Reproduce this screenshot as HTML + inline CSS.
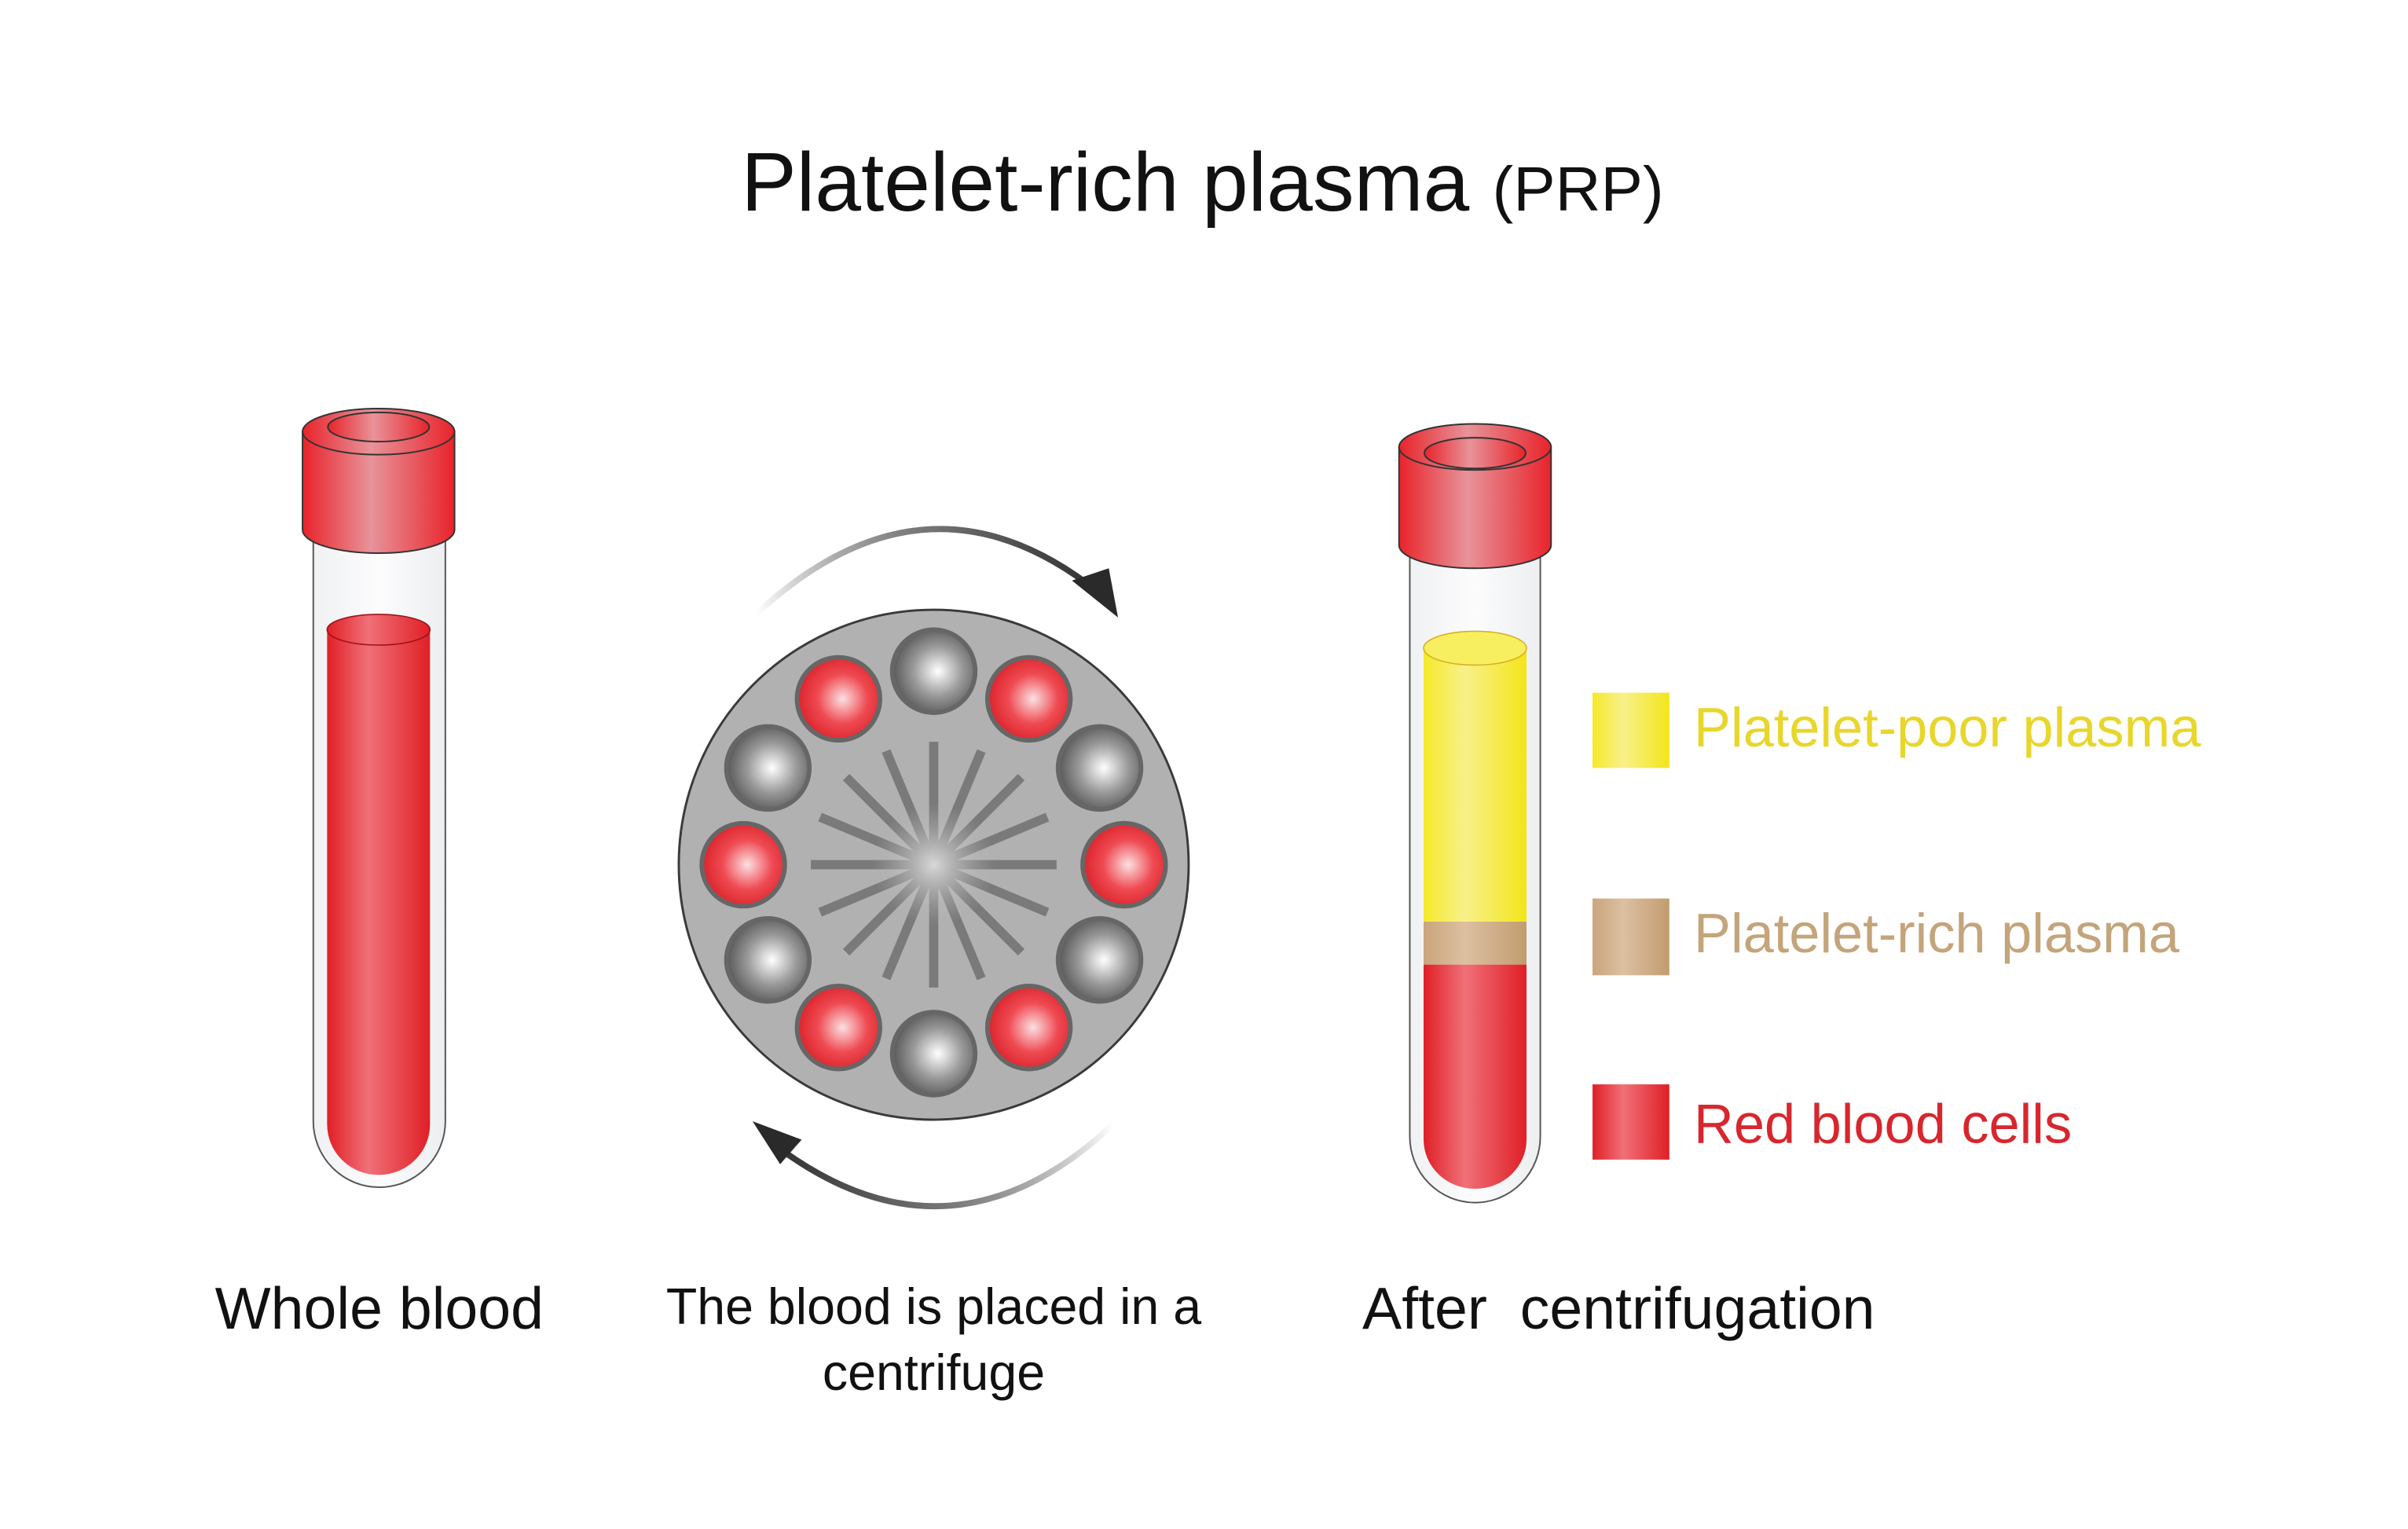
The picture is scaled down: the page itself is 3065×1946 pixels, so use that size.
<!DOCTYPE html>
<html><head><meta charset="utf-8"><style>html,body{margin:0;padding:0;background:#fff}svg{display:block}</style></head><body>
<svg width="3065" height="1946" viewBox="0 0 1568 995.5" preserveAspectRatio="none" xmlns="http://www.w3.org/2000/svg" font-family="'Liberation Sans', sans-serif">
<defs>
<linearGradient id="red" x1="0" x2="1"><stop offset="0" stop-color="#e8232a"/><stop offset="0.45" stop-color="#e8939a"/><stop offset="1" stop-color="#e8232a"/></linearGradient>
<linearGradient id="redb" x1="0" x2="1"><stop offset="0" stop-color="#e01f26"/><stop offset="0.4" stop-color="#f07078"/><stop offset="1" stop-color="#e01f26"/></linearGradient>
<linearGradient id="glass" x1="0" x2="1"><stop offset="0" stop-color="#f0f1f3"/><stop offset="0.5" stop-color="#fcfcfd"/><stop offset="1" stop-color="#eceef0"/></linearGradient>
<linearGradient id="yel" x1="0" x2="1"><stop offset="0" stop-color="#f5e92a"/><stop offset="0.4" stop-color="#f8f08a"/><stop offset="1" stop-color="#f3e51a"/></linearGradient>
<linearGradient id="tan" x1="0" x2="1"><stop offset="0" stop-color="#c9a57c"/><stop offset="0.4" stop-color="#dcc0a0"/><stop offset="1" stop-color="#c29c70"/></linearGradient>
<radialGradient id="rball" cx="0.55" cy="0.5" r="0.6"><stop offset="0" stop-color="#fbe0e2"/><stop offset="0.5" stop-color="#ef4a52"/><stop offset="1" stop-color="#d81a22"/></radialGradient>
<radialGradient id="gball" cx="0.55" cy="0.5" r="0.6"><stop offset="0" stop-color="#ffffff"/><stop offset="0.5" stop-color="#999"/><stop offset="1" stop-color="#4a4a4a"/></radialGradient>
<radialGradient id="hub" cx="0.5" cy="0.5" r="0.5"><stop offset="0" stop-color="#d8d8d8"/><stop offset="1" stop-color="#b0b0b0" stop-opacity="0"/></radialGradient>
<linearGradient id="arrT" x1="0" x2="1"><stop offset="0" stop-color="#333" stop-opacity="0"/><stop offset="0.5" stop-color="#777"/><stop offset="1" stop-color="#333"/></linearGradient>
<linearGradient id="arrB" x1="1" x2="0"><stop offset="0" stop-color="#333" stop-opacity="0"/><stop offset="0.5" stop-color="#777"/><stop offset="1" stop-color="#333"/></linearGradient>
</defs>
<text x="783" y="137" text-anchor="middle" font-size="54" fill="#111">Platelet-rich plasma <tspan font-size="41">(PRP)</tspan></text>

<path d="M204 350 V730 A43 43 0 0 0 290 730 V350 Z" fill="url(#glass)" stroke="#555" stroke-width="1"/>
<path d="M213 410 V732 A33.5 33 0 0 0 280 732 V410 Z" fill="url(#redb)"/>
<ellipse cx="246.5" cy="410" rx="33.5" ry="10" fill="url(#redb)" stroke="#a01218" stroke-width="0.8"/>
<path d="M197 281 V345 A49 15 0 0 0 296 345 V281 Z" fill="url(#red)" stroke="#333" stroke-width="1"/>
<ellipse cx="246.5" cy="281" rx="49.5" ry="15" fill="url(#red)" stroke="#333" stroke-width="1"/>
<ellipse cx="246.5" cy="278" rx="33" ry="9.5" fill="url(#red)" stroke="#333" stroke-width="1"/>

<path d="M918 360 V740 A42.5 43 0 0 0 1003 740 V360 Z" fill="url(#glass)" stroke="#555" stroke-width="1"/>
<path d="M927 628 V742 A33.5 32 0 0 0 994 742 V628 Z" fill="url(#redb)"/>
<rect x="927" y="600" width="67" height="28" fill="url(#tan)"/>
<rect x="927" y="422" width="67" height="178" fill="url(#yel)"/>
<ellipse cx="960.5" cy="422" rx="33.5" ry="11" fill="#f8ef60" stroke="#d8b020" stroke-width="0.8"/>
<path d="M911 291 V355 A49.5 15 0 0 0 1010 355 V291 Z" fill="url(#red)" stroke="#333" stroke-width="1"/>
<ellipse cx="960.5" cy="291" rx="49.5" ry="15" fill="url(#red)" stroke="#333" stroke-width="1"/>
<ellipse cx="960.5" cy="295" rx="33" ry="10" fill="url(#red)" stroke="#333" stroke-width="1"/>

<rect x="1037" y="451" width="50" height="49" fill="url(#yel)"/>
<rect x="1037" y="585" width="50" height="50" fill="url(#tan)"/>
<rect x="1037" y="706" width="50" height="49" fill="url(#redb)"/>
<text x="1103" y="486" font-size="36" fill="#e8d62a">Platelet-poor plasma</text>
<text x="1103" y="620" font-size="36" fill="#c4a47a">Platelet-rich plasma</text>
<text x="1103" y="744" font-size="36" fill="#d8262e">Red blood cells</text>

<circle cx="608" cy="563" r="166" fill="#b1b1b1" stroke="#3a3a3a" stroke-width="1.5"/>
<g stroke="#7a7a7a" stroke-width="6">
<line x1="528" y1="563" x2="688" y2="563"/><line x1="608" y1="483" x2="608" y2="643"/>
<line x1="551" y1="506" x2="665" y2="620"/><line x1="665" y1="506" x2="551" y2="620"/>
<line x1="534" y1="532" x2="682" y2="594"/><line x1="534" y1="594" x2="682" y2="532"/>
<line x1="577" y1="489" x2="639" y2="637"/><line x1="639" y1="489" x2="577" y2="637"/>
</g>
<circle cx="608" cy="563" r="40" fill="url(#hub)"/>
<g stroke="#666" stroke-width="3">
<circle cx="608" cy="437" r="27" fill="url(#gball)"/>
<circle cx="546" cy="455" r="27" fill="url(#rball)"/>
<circle cx="670" cy="455" r="27" fill="url(#rball)"/>
<circle cx="500" cy="500" r="27" fill="url(#gball)"/>
<circle cx="716" cy="500" r="27" fill="url(#gball)"/>
<circle cx="484" cy="563" r="27" fill="url(#rball)"/>
<circle cx="732" cy="563" r="27" fill="url(#rball)"/>
<circle cx="500" cy="625" r="27" fill="url(#gball)"/>
<circle cx="716" cy="625" r="27" fill="url(#gball)"/>
<circle cx="546" cy="669" r="27" fill="url(#rball)"/>
<circle cx="670" cy="669" r="27" fill="url(#rball)"/>
<circle cx="608" cy="686" r="27" fill="url(#gball)"/>
</g>
<path d="M492 400 Q600 300 708 380" fill="none" stroke="url(#arrT)" stroke-width="4"/>
<polygon points="698,378 728,402 722,370" fill="#2a2a2a"/>
<path d="M725 732 Q620 830 508 748" fill="none" stroke="url(#arrB)" stroke-width="4"/>
<polygon points="490,730 522,742 508,758" fill="#2a2a2a"/>

<text x="247" y="865" text-anchor="middle" font-size="38.5" fill="#111">Whole blood</text>
<text x="608" y="862" text-anchor="middle" font-size="33" fill="#111">The blood is placed in a</text>
<text x="608" y="905" text-anchor="middle" font-size="33" fill="#111">centrifuge</text>
<text x="1054" y="865" text-anchor="middle" font-size="38.5" fill="#111" xml:space="preserve">After  centrifugation</text>
</svg>
</body></html>
